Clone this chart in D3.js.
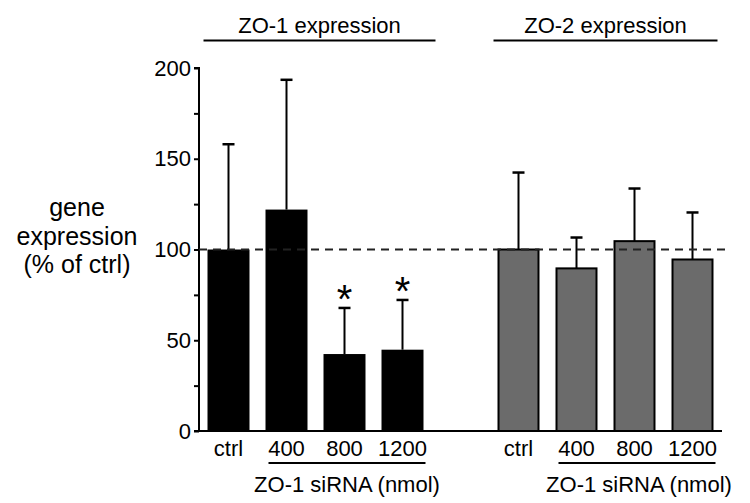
<!DOCTYPE html>
<html>
<head>
<meta charset="utf-8">
<script src="https://cdn.jsdelivr.net/npm/d3@7"></script>
<style>
  html, body { margin: 0; padding: 0; background: #fff; }
  svg { display: block; font-family: "Liberation Sans", Arial, Helvetica, sans-serif; }
</style>
</head>
<body>
<svg id="chart" width="750" height="503"></svg>
<script>
// ---- data ----
const groups = ["ZO-1 expression", "ZO-2 expression"];
const categories = ["ctrl", "400", "800", "1200"];
const zo1Means = [100, 122, 42.4, 44.8];
const zo1ErrTop = [158, 193.5, 67.8, 72.2];
const zo2Means = [100, 89.6, 104.6, 94.5];
const zo2ErrTop = [142.4, 106.6, 133.6, 120.4];
const zo1Significant = [false, false, true, true];
const zo2Significant = [false, false, false, false];
const yTicks = [0, 25, 50, 75, 100, 125, 150, 175, 200];
const yTickLabels = ["0", "", "50", "", "100", "", "150", "", "200"];
const referenceLevel = 100;
const subLabel = "ZO-1 siRNA (nmol)";
const yLabelLines = ["gene", "expression", "(% of ctrl)"];

// ---- layout ----
const svg = d3.select("#chart");
const axisX = 199, y0px = 431, y200px = 68;
const slots = ["g0c0", "g0c1", "g0c2", "g0c3", "gap", "g1c0", "g1c1", "g1c2", "g1c3"];
const x = d3.scaleBand().domain(slots).range([199.5, 721.5]).paddingInner(0.276).paddingOuter(0.138);
const y = d3.scaleLinear().domain([0, 200]).range([y0px, y200px]);
const bw = x.bandwidth();

const series = [
  { means: zo1Means, err: zo1ErrTop, sig: zo1Significant, fill: "#000", stroke: "#000" },
  { means: zo2Means, err: zo2ErrTop, sig: zo2Significant, fill: "#6b6b6b", stroke: "#000" }
];

// y axis
const yAxis = d3.axisLeft(y).tickValues(yTicks).tickSize(5).tickPadding(3)
  .tickFormat((d, i) => yTickLabels[i]);
const gy = svg.append("g").attr("transform", `translate(${axisX},0)`).call(yAxis);
gy.select(".domain").attr("stroke", "#000").attr("stroke-width", 2).attr("d", `M-5,${y(200)}H0V${y(0)}`);
gy.selectAll(".tick line").attr("stroke", "#000").attr("stroke-width", 2);
gy.selectAll(".tick text").attr("font-size", 22).attr("fill", "#000")
  .attr("font-family", "Liberation Sans, Arial, sans-serif");

// bars
series.forEach((s, gi) => {
  const data = categories.map((c, i) => ({ key: `g${gi}c${i}`, cat: c, v: s.means[i], e: s.err[i], sig: s.sig[i] }));
  const g = svg.append("g");
  g.selectAll("rect").data(data).join("rect")
    .attr("x", d => x(d.key) + (gi ? 1 : 0))
    .attr("y", d => y(d.v))
    .attr("width", bw - (gi ? 2 : 0))
    .attr("height", d => y(0) - y(d.v))
    .attr("fill", s.fill)
    .attr("stroke", s.stroke)
    .attr("stroke-width", gi ? 2 : 0);
  // error bars
  g.selectAll("line.err").data(data).join("line").attr("class", "err")
    .attr("x1", d => x(d.key) + bw / 2).attr("x2", d => x(d.key) + bw / 2)
    .attr("y1", d => y(d.v)).attr("y2", d => y(d.e))
    .attr("stroke", "#000").attr("stroke-width", 2);
  g.selectAll("line.cap").data(data).join("line").attr("class", "cap")
    .attr("x1", d => x(d.key) + bw / 2 - 6).attr("x2", d => x(d.key) + bw / 2 + 6)
    .attr("y1", d => y(d.e)).attr("y2", d => y(d.e))
    .attr("stroke", "#000").attr("stroke-width", 2.5);
  // significance stars
  g.selectAll("text.star").data(data.filter(d => d.sig)).join("text").attr("class", "star")
    .attr("x", d => x(d.key) + bw / 2)
    .attr("y", d => y(d.e) - 18 + 23)
    .attr("text-anchor", "middle").attr("font-size", 40).attr("fill", "#000")
    .text("*");
  // category labels
  g.selectAll("text.cat").data(data).join("text").attr("class", "cat")
    .attr("x", d => x(d.key) + bw / 2)
    .attr("y", 456)
    .attr("text-anchor", "middle").attr("font-size", 22).attr("fill", "#000")
    .text(d => d.cat);
  // sub-bracket under dose labels
  const sx1 = x(`g${gi}c1`) + 3, sx2 = x(`g${gi}c3`) + bw + 2;
  svg.append("line").attr("x1", sx1).attr("x2", sx2).attr("y1", 463).attr("y2", 463)
    .attr("stroke", "#000").attr("stroke-width", 2);
  svg.append("text").attr("x", (sx1 + sx2) / 2 - (gi ? -2 : 0)).attr("y", 492)
    .attr("text-anchor", "middle").attr("font-size", 22).attr("fill", "#000").text(subLabel);
  // group title + line
  const tx1 = x(`g${gi}c0`) - 4, tx2 = x(`g${gi}c3`) + bw + (gi ? 4 : 12);
  svg.append("line").attr("x1", tx1).attr("x2", tx2).attr("y1", 40.5).attr("y2", 40.5)
    .attr("stroke", "#000").attr("stroke-width", 2);
  svg.append("text").attr("x", (tx1 + tx2) / 2).attr("y", 33)
    .attr("text-anchor", "middle").attr("font-size", 22).attr("fill", "#000").text(groups[gi]);
});

// x baseline
svg.append("line").attr("x1", axisX - 5).attr("x2", 722).attr("y1", y(0)).attr("y2", y(0))
  .attr("stroke", "#000").attr("stroke-width", 2);

// reference dashed line
svg.append("line").attr("x1", axisX).attr("x2", 728).attr("y1", y(referenceLevel)).attr("y2", y(referenceLevel))
  .attr("stroke", "#222").attr("stroke-width", 2).attr("stroke-dasharray", "8,6");

// y label
svg.append("text").attr("text-anchor", "middle").attr("font-size", 25).attr("fill", "#000")
  .selectAll("tspan").data(yLabelLines).join("tspan")
  .attr("x", 77).attr("y", (d, i) => 216 + i * 28.5).text(d => d);
</script>
</body>
</html>
